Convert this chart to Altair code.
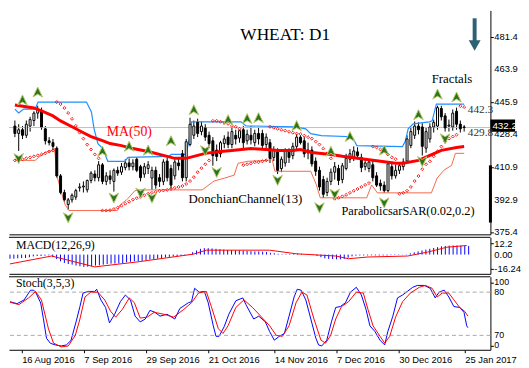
import altair as alt
import pandas as pd

# ---------------- data (bar index 0 = 11 Aug 2016) ----------------
opens = [433, 429, 431, 428, 433, 436, 440, 441.5, 431.5, 425,
         424, 421, 406, 397, 390.5, 393, 394.5, 399.5, 400, 398.5,
         403.5, 407, 405, 412, 403, 406, 403, 409, 408, 410.5,
         413, 411, 415, 411, 407, 410, 404.8, 409, 405, 403,
         414, 410, 406, 413, 418, 405, 423, 428, 435, 430,
         432, 428, 425, 420, 418, 423.5, 427, 423, 428, 426.5,
         431, 425, 428, 424, 429, 429, 423, 424, 416, 419,
         410, 413, 419, 417, 422, 427, 425, 420, 420, 414,
         409, 404, 397, 403, 408, 410, 404, 410, 415, 416,
         419, 416, 411, 410, 412, 406, 402, 401, 398, 411,
         406, 409, 411, 414, 422.5, 428, 433, 432.5, 421, 426,
         432.5, 433, 442.5, 438.5, 433, 432.5, 441, 434, 432.5]
highs = [436, 434, 433, 436, 438, 441, 444, 443, 433, 427,
         426, 422, 407, 398.5, 394, 396.5, 399, 402, 403, 404,
         408.5, 409, 414, 413, 408, 409, 410, 411, 413, 415,
         415.5, 415, 416, 412, 413, 414, 411, 411, 407, 415,
         416, 412, 415, 416, 420, 426, 437.5, 436, 437, 435.5,
         434, 430, 427, 423, 425, 428, 430, 432, 431, 431,
         433, 431, 433, 431, 432.6, 431, 429, 426, 422, 421,
         416.5, 421, 421, 424, 428.5, 428, 427, 424, 422, 416,
         411, 406, 405, 410, 413.5, 412, 413, 418, 420.5, 422,
         421.5, 418, 415, 415, 414, 408, 404, 403, 414, 413,
         412, 413, 415.5, 428, 432, 435.5, 435, 434.5, 432, 434.5,
         436.5, 444, 444, 440, 436.5, 442, 443, 436, 433.5]
lows = [427, 419.5, 426, 426.5, 430, 433, 437, 431, 423, 422.5,
        420, 405, 396, 392, 387.7, 391.5, 393, 397.5, 397, 397,
        402, 403, 403, 401.5, 401, 401.5, 397.5, 406, 406.5, 409,
        409, 409, 408, 403, 405, 407, 398.5, 399, 400, 401,
        403, 399, 404, 409, 403, 403, 422, 426, 427, 428,
        425, 421, 411.5, 414, 416, 421, 421, 421, 423, 424,
        421, 423, 423, 422, 423, 420, 420, 413, 414, 407,
        408, 411, 413, 415, 420, 423, 416, 415, 411, 406,
        398, 394, 395, 401, 404, 401, 402, 409, 413, 414,
        415, 408, 409, 408, 403, 400, 398, 396.8, 397, 404,
        404.5, 407, 409, 413, 421, 426, 428.5, 417, 418.5, 424,
        429.5, 431, 436, 430, 430, 430.5, 431, 429.5, 430]
closes = [429, 431, 428, 434, 436.5, 440, 442, 432.5, 425, 424,
          422, 406, 397, 393, 393, 395.5, 398, 400, 400.5, 403.5,
          407.5, 405, 412, 403, 406, 404, 409, 407.5, 411, 413,
          411, 413, 409, 405, 411, 412, 409, 401, 403, 413.5,
          405, 401, 413.5, 411.5, 405, 424.5, 434, 433, 429, 433,
          427, 423.5, 417, 416.5, 424, 426, 423, 430, 426, 430.5,
          424, 428.5, 425.5, 429, 426, 422.5, 427, 415.5, 420, 409,
          415, 419.5, 416, 422, 427, 424, 418, 418.5, 412.5, 408.5,
          400, 396, 403, 408, 411, 403.5, 411.5, 415.5, 418, 419.5,
          417, 410.5, 413, 413.5, 405, 401, 400.5, 398, 412.5, 406,
          409, 411.5, 413.5, 426, 430, 433, 431, 422, 430, 432.5,
          435, 443, 438, 432, 433.5, 440, 434, 431.5, 432.2]
sar = [414.4, 414.4, 415.0, 415.5, 416.0, 416.6, 417.1, 417.6, 418.2, 419.2,
       419.8, 446.0, 444.9, 442.8, 440.1, 436.9, 433.1, 429.4, 426.2, 423.0,
       420.3, 417.6, 415.5, 387.2, 387.2, 387.4, 388.0, 388.8, 389.8, 390.9,
       392.0, 393.1, 393.9, 394.7, 395.5, 396.3, 396.8, 397.3, 397.9, 398.1,
       398.4, 398.9, 399.5, 400.0, 400.5, 401.6, 403.2, 405.3, 408.0, 410.2,
       412.3, 414.4, 435.8, 435.8, 435.3, 434.7, 434.2, 433.1, 432.6, 431.5,
       411.8, 412.3, 412.8, 413.4, 413.4, 413.9, 414.4, 432.6, 432.1, 431.5,
       431.0, 430.5, 429.9, 429.4, 428.9, 428.6, 427.8, 427.0, 426.2, 424.6,
       423.0, 420.8, 418.2, 415.5, 393.6, 394.1, 394.9, 395.7, 396.8, 397.9,
       398.9, 400.0, 401.1, 402.1, 421.9, 421.4, 420.3, 419.2, 417.6, 416.0,
       415.0, 396.3, 396.8, 397.9, 400.0, 403.2, 405.9, 409.6, 412.3, 413.9,
       416.6, 419.2, 421.9, 424.6, 426.2, 427.3, 428.3, 443.8, 443.3]
macd_main = [-4.6, -4.6, -4.2, -3.8, -3.8, -3.0, -2.0, -1.6, -1.6, -1.2,
             -0.9, -2.5, -5.0, -7.5, -9.3, -10.5, -11.2, -12.2, -13.0, -13.7,
             -13.5, -13.0, -12.2, -11.9, -11.2, -10.5, -10.1, -10.1, -10.0, -9.5,
             -8.5, -8.0, -7.5, -7.5, -7.0, -6.4, -5.5, -5.0, -4.6, -4.0,
             -3.2, -2.5, -2.0, -1.6, -1.4, -0.9, 0.5, 2.7, 4.5, 6.4,
             7.1, 7.1, 6.8, 6.4, 6.0, 5.5, 5.0, 4.8, 4.6, 4.6,
             4.2, 4.0, 3.8, 3.5, 3.5, 3.2, 2.8, 2.0, 1.5, 0.8,
             0.5, 0.5, 0.6, 0.8, 1.0, 0.8, 0.3, 0.0, -0.5, -1.5,
             -3.0, -4.2, -4.8, -5.0, -5.3, -5.3, -4.8, -3.5, -2.0, -1.2,
             -1.0, -1.0, -0.9, -0.8, -0.9, -1.0, -1.0, -1.0, -0.6, -0.5,
             -0.4, -0.2, 0.3, 1.4, 2.5, 3.5, 4.6, 5.5, 6.4, 7.3,
             8.2, 9.1, 9.6, 10.0, 10.2, 10.2, 10.0, 9.8, 9.6]
signal_idx = [0, 10.7, 21.8, 32.7, 47.2, 50.5, 66.8, 73.6, 83.8, 87.1, 92.1, 102.3, 107.4, 112.4, 117.5]
signal_val = [-10.4, -1.6, -13.7, -8.2, 0.5, 4.9, 4.9, 0.9, -1.6, -4.6, -2.7, -1.6, 2.7, 8.2, 10.1]

ma_idx = [0, 5, 7, 10, 12, 15, 18, 20, 23, 25, 28, 31, 35, 39, 42, 45, 47, 50, 54, 57,
          62, 66, 69, 73, 75, 78, 83, 86, 92, 96, 100, 102, 106, 109, 112, 116, 118]
ma_val = [444.4, 442.8, 441.2, 438.5, 435.8, 432.6, 429.4, 427.3, 425.1, 423.5, 422.4, 420.8,
          419.2, 417.1, 415.5, 415.5, 416.6, 418.2, 419.2, 419.8, 420.8, 420.3, 419.8, 419.8,
          420.3, 418.7, 417.6, 416.6, 415.0, 413.9, 412.8, 412.8, 414.4, 417.1, 419.8, 421.4, 421.9]

dc_up_idx = [0, 1, 2.3, 5.3, 6.1, 18.8, 20.1, 20.8, 21.8, 23.1, 24.4, 28.9, 29.7, 40.4, 41.1, 44.9,
             45.7, 46.4, 59.4, 60.7, 73.4, 76.4, 77.7, 80.5, 88.6, 89.8, 101.8, 102.5, 103.3,
             104.6, 108.9, 109.6, 110.7, 118]
dc_up_val = [442.2, 440.1, 442.2, 442.2, 446.0, 446.0, 440.6, 431.5, 423.5, 420.8, 413.9, 413.9,
             416.0, 416.6, 417.6, 417.6, 424.6, 435.3, 435.3, 433.1, 432.6, 431.5, 428.9, 427.8,
             427.2, 422.4, 421.9, 424.6, 431.5, 434.2, 435.3, 435.8, 444.9, 444.9]
dc_lo_idx = [0, 5.3, 7.9, 9.9, 10.4, 11.2, 12.4, 13.2, 14.2, 26.9, 27.7, 29.4, 31.5, 32.7, 49.2,
             52.3, 55.1, 57.6, 58.6, 61.2, 66.5, 67.5, 68.3, 77.7, 79.2, 80.2, 92.4, 93.7, 95.2,
             109.4, 110.9, 112.7, 114.7, 115.7, 118]
dc_lo_val = [414.4, 414.4, 418.7, 419.8, 420.8, 404.8, 395.7, 390.4, 387.2, 387.2, 390.4, 393.1,
             397.9, 398.4, 398.4, 403.2, 404.8, 406.4, 412.8, 413.9, 414.4, 415.5, 408.5, 408.5,
             401.1, 394.1, 394.1, 401.1, 396.8, 396.8, 404.8, 409.1, 411.7, 418.2, 418.2]

frac_up_idx = [2, 6, 23, 30, 35, 41, 47, 56, 61, 64, 74, 83, 88, 97, 106, 111, 116]
frac_up_val = [447.0, 451.3, 419.2, 421.9, 419.8, 424.9, 441.7, 436.3, 436.9, 437.4, 433.1,
               419.2, 427.2, 419.8, 439.0, 450.2, 448.6]
frac_dn_idx = [1, 14, 26, 33, 36, 50, 53, 69, 80, 84, 97, 107, 113]
frac_dn_val = [415.5, 383.4, 394.1, 396.8, 394.1, 419.8, 408.0, 403.7, 388.8, 396.2, 391.5, 413.9, 426.2]

k_idx = [0, 1.8, 3.6, 5.3, 6.1, 6.6, 7.9, 8.6, 9.4, 10.4, 11.7, 13.2, 14.5, 15.7, 17.0, 18.0, 18.8,
         20.1, 21.8, 22.3, 23.4, 24.6, 25.6, 26.9, 28.4, 29.7, 31.0, 32.2, 33.5, 34.8, 36.0, 37.3,
         38.6, 40.4, 42.4, 43.7, 45.9, 46.7, 47.5, 48.7, 50.0, 51.0, 52.3, 53.0, 53.8, 55.1, 56.3,
         58.1, 59.9, 60.7, 62.7, 64.0, 65.7, 66.8, 68.0, 69.3, 70.6, 71.8, 73.1, 73.9, 74.9, 76.1,
         77.4, 78.7, 79.4, 80.2, 81.5, 82.7, 83.8, 85.0, 86.3, 87.6, 89.1, 90.4, 91.6, 92.6, 93.9,
         95.2, 96.4, 97.2, 98.5, 99.7, 101.0, 102.3, 103.6, 104.8, 106.6, 108.1, 109.4, 110.4,
         111.7, 112.9, 114.2, 115.7, 116.8, 117.5, 117.8]
k_val = [66.7, 64, 69, 82.7, 82.7, 80, 65, 43, 16, 9, 6.7, 5.3, 6.7, 13, 38.7, 60, 78.7,
         81, 81, 84, 69, 58.7, 37.3, 49, 66.7, 76, 69, 46.7, 38.7, 42.7, 54.7, 52,
         46.7, 49.3, 42.7, 57.3, 65.3, 66.7, 85.3, 80, 81, 65.3, 33.3, 18.7, 18.7, 32, 49.3,
         68, 72, 62.7, 42.7, 46.7, 38.7, 25.3, 13.3, 18.7, 22.7, 46.7, 73.3, 84, 82.7, 69.3,
         42.7, 16, 6.7, 5.3, 13.3, 38.7, 58.7, 60, 65.3, 80, 86.7, 76, 56, 33.3, 25.3,
         13.3, 6.7, 25.3, 46.7, 72, 76, 81.3, 86.7, 89.3, 89.3, 85.3, 72, 80,
         82.7, 73.3, 60, 58.7, 52, 33.3, 30.7]
d_idx = [0, 2.3, 4.8, 6.6, 8.1, 9.9, 11.2, 13.2, 15.0, 16.8, 18.0, 19.3, 20.8, 22.6, 24.4, 25.9,
         27.2, 28.9, 30.7, 32.0, 33.5, 35.3, 37.1, 39.6, 42.1, 44.7, 46.7, 48.5, 50.5, 51.8, 53.6,
         54.8, 56.1, 58.1, 60.2, 62.4, 64.5, 66.8, 68.5, 70.1, 71.8, 73.6, 75.1, 76.4, 78.2, 80.0,
         81.2, 82.5, 83.8, 85.3, 87.1, 89.1, 90.9, 92.1, 93.4, 95.2, 96.4, 97.7, 99.2, 101.0,
         103.0, 105.3, 106.9, 108.6, 109.9, 111.2, 112.9, 114.2, 115.7, 117.0, 117.8]
d_val = [66, 62.7, 72, 81, 69, 29, 9.3, 4, 5.3, 20, 42.7, 73.3, 80, 80, 69, 53.3,
         45.3, 56, 72, 65.3, 44, 45.3, 52, 49.3, 45.3, 56, 65.3, 78.7, 81, 60, 29.3,
         22.7, 33.3, 58.7, 69.3, 58.7, 46.7, 33.3, 20, 18.7, 33.3, 65.3, 80, 76, 42.7, 13.3,
         9.3, 20, 42.7, 60, 66.7, 80, 78.7, 56, 33.3, 18.7, 9.3, 18.7, 45.3, 66.7,
         78.7, 86.7, 89.3, 85.3, 73.3, 78.7, 78.7, 69.3, 58.7, 53.3, 46.7]

stoch_levels = [80, 20]
last_price = 432.2
dc_up_last = "442.3"
dc_lo_last = "429.8"

date_ticks = [3, 19, 35, 51, 68, 84, 100, 117]
date_labels = ["16 Aug 2016", "7 Sep 2016", "29 Sep 2016", "21 Oct 2016",
               "14 Nov 2016", "7 Dec 2016", "30 Dec 2016", "25 Jan 2017"]
price_ticks = [481.4, 463.9, 445.9, 428.4, 410.9, 392.9, 375.4]
price_tick_labels = ["481.4", "463.9", "445.9", "428.4", "410.9", "392.9", "375.4"]
macd_ticks = [12.2, 0.0, -16.24]
macd_tick_labels = ["12.2", "0.00", "-16.24"]
stoch_ticks = [93.5, 80, 20, 6]
stoch_tick_labels = ["100", "80", "70", "0"]
scale_bar = [411.7, 380.7]

# ---------------- layout / style ----------------
W = 488
MAIN_H, MACD_H, STOCH_H = 227, 37, 74
SERIF = "Liberation Serif"
SANS = "Liberation Sans"
XS = alt.Scale(domain=[-0.254, 123.6], nice=False, zero=False)
PY = alt.Scale(domain=[374.3, 495.67], nice=False, zero=False)
MY = alt.Scale(domain=[-21.4, 19.2], nice=False, zero=False)
SY = alt.Scale(domain=[0, 101.3], nice=False, zero=False)


def expr_map(vals, labs):
    parts = [f"abs(datum.value - ({v})) < 0.001 ? '{l}'" for v, l in zip(vals, labs)]
    return " : ".join(parts) + " : ''"


def right_axis(values):
    return alt.Axis(orient="right", values=values, title=None, grid=False, domain=True,
                    domainColor="black", tickColor="black", tickSize=3, labels=False)


def tick_labels(values, labels, scale, size=9.5):
    df = pd.DataFrame({"v": values, "t": labels})
    return alt.Chart(df).mark_text(align="left", baseline="middle", fontSize=size, font=SANS,
                                   color="black").encode(
        x=alt.value(W + 4), y=alt.Y("v:Q", scale=scale), text="t:N")


border_x = alt.Axis(orient="bottom", labels=False, ticks=False, domain=True,
                    domainColor="black", grid=False, title=None)


def label(text, x, y, size, color="black", align="left", font=SERIF):
    return alt.Chart(pd.DataFrame({"t": [text]})).mark_text(
        align=align, baseline="middle", fontSize=size, font=font, color=color
    ).encode(x=alt.value(x), y=alt.value(y), text="t:N")


def top_border():
    return alt.Chart(pd.DataFrame({"z": [0]})).mark_rule(color="black", strokeWidth=1).encode(
        x=alt.value(0), x2=alt.value(W), y=alt.value(0))


n = len(closes)
bars = pd.DataFrame({"i": list(range(n)), "o": opens, "h": highs, "l": lows, "c": closes,
                     "sar": sar, "m": macd_main, "zero": [0.0] * n})
bars["fillc"] = ["white" if c >= o else "black" for o, c in zip(opens, closes)]

X = alt.X("i:Q", scale=XS)


def PYv(f):
    return alt.Y(f, scale=PY)


# ---------------- main price panel ----------------
wicks = alt.Chart(bars).mark_rule(color="black", strokeWidth=1).encode(
    x=alt.X("i:Q", scale=XS, axis=border_x),
    y=alt.Y("l:Q", scale=PY, axis=right_axis(price_ticks)), y2="h:Q")

price_line = alt.Chart(pd.DataFrame({"p": [last_price]})).mark_rule(
    color="#c0c0c0", strokeWidth=1).encode(y=PYv("p:Q"))

dc_up = alt.Chart(pd.DataFrame({"i": dc_up_idx, "v": dc_up_val})).mark_line(
    color="#1e90ff", strokeWidth=1.2).encode(x=X, y=PYv("v:Q"))
dc_lo = alt.Chart(pd.DataFrame({"i": dc_lo_idx, "v": dc_lo_val})).mark_line(
    color="#f5684c", strokeWidth=1).encode(x=X, y=PYv("v:Q"))

bodies = alt.Chart(bars).mark_bar(size=2, stroke="black", strokeWidth=1).encode(
    x=X, y=PYv("o:Q"), y2="c:Q", fill=alt.Fill("fillc:N", scale=None))

ma = alt.Chart(pd.DataFrame({"i": ma_idx, "v": ma_val})).mark_line(
    color="#ff0000", strokeWidth=3).encode(x=X, y=PYv("v:Q"))

sar_pts = alt.Chart(bars).mark_point(shape="diamond", filled=False, size=9, color="#ff0000",
                                     strokeWidth=0.9, opacity=1).encode(x=X, y=PYv("sar:Q"))

UP_SHAPE = "M0,-1 L0.9,0.9 L0,0.35 L-0.9,0.9 Z"
DN_SHAPE = "M0,1 L0.9,-0.9 L0,-0.35 L-0.9,-0.9 Z"
fr_up = alt.Chart(pd.DataFrame({"i": frac_up_idx, "v": frac_up_val})).mark_point(
    shape=UP_SHAPE, filled=True, size=115, fill="#2a7420", stroke="#b9c86a",
    strokeWidth=1, opacity=1).encode(x=X, y=PYv("v:Q"))
fr_dn = alt.Chart(pd.DataFrame({"i": frac_dn_idx, "v": frac_dn_val})).mark_point(
    shape=DN_SHAPE, filled=True, size=115, fill="#2a7420", stroke="#b9c86a",
    strokeWidth=1, opacity=1).encode(x=X, y=PYv("v:Q"))

bar_df = pd.DataFrame({"a": [scale_bar[0]], "b": [scale_bar[1]]})
scale_mark = alt.Chart(bar_df).mark_rule(color="black", strokeWidth=3).encode(
    x=alt.value(W), y=PYv("a:Q"), y2="b:Q")

BOX = "M-1,-0.45 L1,-0.45 L1,0.45 L-1,0.45 Z"
lp = pd.DataFrame({"p": [last_price], "t": [f"{last_price:.1f}"]})
price_box = alt.Chart(lp).mark_point(shape=BOX, filled=True, size=530, fill="black",
                                     stroke="black", opacity=1).encode(
    x=alt.value(500.5), y=PYv("p:Q"), yOffset=alt.value(-2))
price_txt = alt.Chart(lp).mark_text(align="left", baseline="middle", fontSize=10, font=SANS,
                                    color="white").encode(
    x=alt.value(490), y=PYv("p:Q"), yOffset=alt.value(-2), text="t:N")

dc_txt = alt.Chart(pd.DataFrame({"p": [float(dc_up_last), float(dc_lo_last)],
                                 "t": [dc_up_last, dc_lo_last]})).mark_text(
    align="left", baseline="middle", fontSize=11.5, font=SERIF, color="#333333").encode(
    x=alt.value(465), y=PYv("p:Q"), yOffset=alt.value(1), text="t:N")

arrow_shaft = alt.Chart(pd.DataFrame({"z": [0]})).mark_rule(color="#2d6173", strokeWidth=4).encode(
    x=alt.value(472), y=alt.value(8), y2=alt.value(31))
arrow_head = alt.Chart(pd.DataFrame({"z": [0]})).mark_point(
    shape="M-1,-0.8 L1,-0.8 L0,1 Z", filled=True, size=144, fill="#2d6173", opacity=1).encode(
    x=alt.value(472), y=alt.value(35))

main = alt.layer(
    wicks, price_line, dc_up, dc_lo, bodies, ma, sar_pts, fr_up, fr_dn, scale_mark,
    tick_labels(price_ticks, price_tick_labels, PY),
    price_box, price_txt, dc_txt, arrow_shaft, arrow_head,
    label("WHEAT: D1", 280, 25, 17.5, align="center"),
    label("Fractals", 449, 70, 13, align="center"),
    label("MA(50)", 99, 123, 14, color="#ff0000"),
    label("DonchianChannel(13)", 182, 191, 13),
    label("ParabolicsarSAR(0.02,0.2)", 337, 203, 12.5),
).properties(width=W, height=MAIN_H)

# ---------------- MACD panel ----------------
hist = alt.Chart(bars).mark_rule(color="#0000ff", strokeWidth=1).encode(
    x=alt.X("i:Q", scale=XS, axis=border_x),
    y=alt.Y("zero:Q", scale=MY, axis=right_axis(macd_ticks)),
    y2="m:Q")
sig = alt.Chart(pd.DataFrame({"i": signal_idx, "v": signal_val})).mark_line(
    color="#ff0000", strokeWidth=1).encode(x=X, y=alt.Y("v:Q", scale=MY))
macd = alt.layer(hist, sig, top_border(), tick_labels(macd_ticks, macd_tick_labels, MY),
                 label("MACD(12,26,9)", 7, 8, 12)).properties(width=W, height=MACD_H)

# ---------------- Stochastic panel ----------------
date_axis = alt.Axis(orient="bottom", values=date_ticks, labelExpr=expr_map(date_ticks, date_labels),
                     title=None, grid=False, domain=True, domainColor="black", tickColor="black",
                     tickSize=3, labelAlign="left", labelPadding=2, labelFont=SANS,
                     labelFontSize=9.5, labelColor="black", labelOverlap=False, labelFlush=False)
k_line = alt.Chart(pd.DataFrame({"i": k_idx, "v": k_val})).mark_line(
    color="#0000ff", strokeWidth=1).encode(
    x=alt.X("i:Q", scale=XS, axis=date_axis),
    y=alt.Y("v:Q", scale=SY, axis=right_axis(stoch_ticks)))
lev = alt.Chart(pd.DataFrame({"v": stoch_levels})).mark_rule(
    color="#a8a8a8", strokeWidth=1, strokeDash=[4, 3]).encode(y=alt.Y("v:Q", scale=SY))
d_line = alt.Chart(pd.DataFrame({"i": d_idx, "v": d_val})).mark_line(
    color="#ff0000", strokeWidth=1).encode(x=X, y=alt.Y("v:Q", scale=SY))
stoch = alt.layer(k_line, lev, d_line, top_border(),
                  tick_labels(stoch_ticks, stoch_tick_labels, SY, size=9),
                  label("Stoch(3,5,3)", 7, 6, 12)).properties(width=W, height=STOCH_H)

chart = alt.vconcat(main, macd, stoch, spacing=3, bounds="flush", padding=0).configure_view(
    stroke=None)

chart.save("out.html", embed_options={"renderer": "svg", "actions": False})
